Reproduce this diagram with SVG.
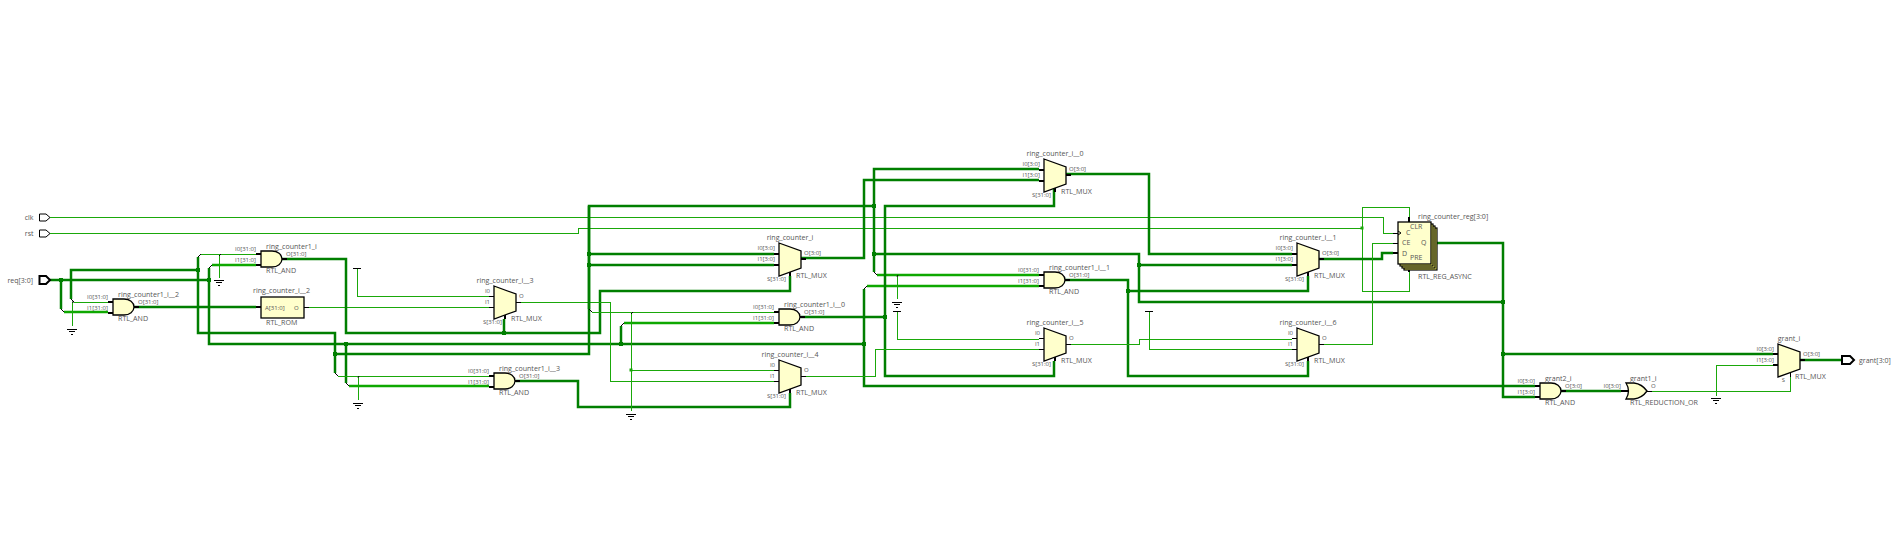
<svg xmlns="http://www.w3.org/2000/svg" xmlns:xlink="http://www.w3.org/1999/xlink" width="1896" height="557" viewBox="0 0 1896 557">
<style>
text{font-family:"Open Sans","Noto Sans",sans-serif;fill:#555;font-size:7.1px}
.s{font-size:6px}
.l{font-size:7px}
.e{text-anchor:end}
.m{text-anchor:middle}
.b{fill:none;stroke:#007f00;stroke-width:2.5}
.h{fill:none;stroke:#0ea800;stroke-width:2.5}
.t{fill:none;stroke:#1aa80a;stroke-width:1;shape-rendering:crispEdges}
.r{fill:none;stroke:#000;stroke-width:1}
.g{fill:#ffc;stroke:#000;stroke-width:1.3}
.y{fill:#ff6;stroke:#000;stroke-width:1.2}
.p{stroke:#000;stroke-width:1;fill:none;shape-rendering:crispEdges}
.q{stroke:#000;stroke-width:2;fill:none}
.j{fill:#007f00}
.k{fill:#1aa80a}
</style>
<defs>
<path id="and" class="g" d="M0 0H11A10 8 0 0 1 11 16H0Z"/>
<path id="or" class="g" d="M0 0H8Q16 1 21 8Q16 15 8 16H0Q5 8 0 0Z"/>
<path id="mux" class="g" d="M0 0L22 8V25L0 33Z"/>
<g id="gnd"><path class="p" d="M-5 0H5M-3 2.500H3M-1 5H1"/></g>
<path id="vcc" class="p" d="M-4 0H4"/>
<g id="andpins"><path class="q" d="M-5 3H0M-5 14H0M21 8H26"/></g>
<g id="muxbus"><path class="q" d="M-5 11H0M-5 22H0M22 16H27M11 29V33"/></g>
<g id="muxbit"><path class="p" d="M-5 10H0M-5 21H0M22 16H27"/><path class="q" d="M11 29V33"/></g>
<rect id="jn" x="-2" y="-2" width="4" height="4" class="j"/>
</defs>

<g id="connectors">
<path class="t" d="M50 217H1383V233H1393"/>
<path class="t" d="M50 233H578V228H1362"/>
<path class="t" d="M1362 228V207H1409V217M1362 228V291H1409V270"/>
<path class="b" d="M50 280H209"/>
<path class="b" d="M61 280V309"/>
<path class="h" d="M64 312H108"/>
<path class="b" d="M71 299V270H198"/>
<path class="t" d="M74 302H108M72 302V326"/>
<path class="b" d="M198 257V333H335V373"/>
<path class="t" d="M201 254H256M219 256V278"/>
<path class="b" d="M209 268V344H864"/>
<path class="h" d="M212 265H256"/>
<path class="b" d="M134 307H256"/>
<path class="t" d="M304 307H489"/>
<path class="b" d="M282 259H346V333H600V291H790V276"/>
<path class="b" d="M504 333V319"/>
<path class="t" d="M357 268V296H489"/>
<path class="t" d="M516 302H610V381H774"/>
<path class="b" d="M335 354H589V206H874"/>
<path class="b" d="M589 254H774M589 265H774"/>
<path class="b" d="M589 206V309"/>
<path class="t" d="M592 312H774"/>
<path class="b" d="M346 344V383"/>
<path class="h" d="M349 386H489"/>
<path class="t" d="M338 376H489M358 378V400"/>
<path class="b" d="M516 381H578V407H790V393"/>
<path class="b" d="M621 344V326"/>
<path class="h" d="M624 323H774"/>
<path class="t" d="M631 314V411M631 370H774"/>
<path class="b" d="M801 317H885"/>
<path class="b" d="M801 258H864V180H1039"/>
<path class="b" d="M1039 169H874V272"/>
<path class="h" d="M877 275H1039"/>
<path class="b" d="M864 289V386H1535"/>
<path class="h" d="M867 286H1039"/>
<path class="b" d="M874 254H1139V302H1503"/>
<path class="b" d="M1139 265H1292"/>
<path class="b" d="M1054 187V206H885V376H1054V361"/>
<path class="t" d="M801 376H875V349H1039"/>
<path class="t" d="M897 277V299M897 311V339H1039"/>
<path class="b" d="M1066 174H1149V254H1292"/>
<path class="b" d="M1065 280H1128V376H1308V361"/>
<path class="b" d="M1128 291H1308V276"/>
<path class="t" d="M1066 344H1139V339H1292"/>
<path class="t" d="M1149 311V349H1292"/>
<path class="b" d="M1319 259H1382V253H1393"/>
<path class="t" d="M1319 344H1372V243H1393"/>
<path class="b" d="M1431 243H1503V397H1535"/>
<path class="b" d="M1503 354H1773"/>
<path class="b" d="M1561 391H1621"/>
<path class="t" d="M1646 391H1790V377"/>
<path class="t" d="M1773 365H1716V396"/>
<path class="b" d="M1800 360H1842"/>
<path class="r" d="M71 299L74 302M61 309L64 312M198 257L201 254M209 268L212 265M335 373L338 376M346 383L349 386M589 309L592 312M621 326L624 323M864 289L867 286M874 272L877 275M72 302L74 302M219 256L221 254M358 378L359 376M631 314L633 312M897 277L898 275"/>
<use xlink:href="#jn" href="#jn" x="61" y="280"/>
<use xlink:href="#jn" href="#jn" x="198" y="270"/>
<use xlink:href="#jn" href="#jn" x="209" y="280"/>
<use xlink:href="#jn" href="#jn" x="335" y="354"/>
<use xlink:href="#jn" href="#jn" x="346" y="344"/>
<use xlink:href="#jn" href="#jn" x="504" y="333"/>
<use xlink:href="#jn" href="#jn" x="589" y="254"/>
<use xlink:href="#jn" href="#jn" x="589" y="265"/>
<use xlink:href="#jn" href="#jn" x="621" y="344"/>
<use xlink:href="#jn" href="#jn" x="864" y="344"/>
<use xlink:href="#jn" href="#jn" x="874" y="206"/>
<use xlink:href="#jn" href="#jn" x="874" y="254"/>
<use xlink:href="#jn" href="#jn" x="885" y="317"/>
<use xlink:href="#jn" href="#jn" x="1128" y="291"/>
<use xlink:href="#jn" href="#jn" x="1139" y="265"/>
<use xlink:href="#jn" href="#jn" x="1503" y="302"/>
<use xlink:href="#jn" href="#jn" x="1503" y="354"/>
<rect class="k" x="629.500" y="368.500" width="3" height="3"/>
<rect class="k" x="1360.500" y="226.500" width="3" height="3"/>
</g>

<g id="port_clk"><path d="M39.500 214H46L50 217.500L46 221H39.500Z" fill="#fff" stroke="#000"/><text class="l e" x="33.500" y="220">clk</text></g>
<g id="port_rst"><path d="M39.500 230H46L50 233.500L46 237H39.500Z" fill="#fff" stroke="#000"/><text class="l e" x="33.500" y="236">rst</text></g>
<g id="port_req"><path d="M39.500 276H46L50 280L46 284H39.500Z" fill="#fff" stroke="#000" stroke-width="2"/><text class="l e" x="33" y="283">req[3:0]</text></g>
<g id="port_grant"><path d="M1842 356H1850L1854 360L1850 364H1842Z" fill="#fff" stroke="#000" stroke-width="2"/><text class="l" x="1859" y="363">grant[3:0]</text></g>

<g id="gnd_1"><use xlink:href="#gnd" href="#gnd" x="72" y="329"/></g>
<g id="gnd_2"><use xlink:href="#gnd" href="#gnd" x="219" y="280"/></g>
<g id="gnd_3"><use xlink:href="#gnd" href="#gnd" x="358" y="403"/></g>
<g id="gnd_4"><use xlink:href="#gnd" href="#gnd" x="631" y="414"/></g>
<g id="gnd_5"><use xlink:href="#gnd" href="#gnd" x="897" y="302"/></g>
<g id="gnd_6"><use xlink:href="#gnd" href="#gnd" x="1716" y="398"/></g>
<g id="vcc_1"><use xlink:href="#vcc" href="#vcc" x="357" y="268"/></g>
<g id="vcc_2"><use xlink:href="#vcc" href="#vcc" x="897" y="311"/></g>
<g id="vcc_3"><use xlink:href="#vcc" href="#vcc" x="1149" y="311"/></g>

<g id="ring_counter1_i__2" transform="translate(113,299)"><use xlink:href="#andpins" href="#andpins"/><use xlink:href="#and" href="#and"/><text x="5" y="-2.500">ring_counter1_i__2</text><text class="s e" x="-5" y="0">I0[31:0]</text><text class="s e" x="-5" y="11">I1[31:0]</text><text class="s" x="25" y="5">O[31:0]</text><text x="5" y="22">RTL_AND</text></g>
<g id="ring_counter1_i" transform="translate(261,251)"><use xlink:href="#andpins" href="#andpins"/><use xlink:href="#and" href="#and"/><text x="5" y="-2.500">ring_counter1_i</text><text class="s e" x="-5" y="0">I0[31:0]</text><text class="s e" x="-5" y="11">I1[31:0]</text><text class="s" x="25" y="5">O[31:0]</text><text x="5" y="22">RTL_AND</text></g>
<g id="ring_counter1_i__3" transform="translate(494,373)"><use xlink:href="#andpins" href="#andpins"/><use xlink:href="#and" href="#and"/><text x="5" y="-2.500">ring_counter1_i__3</text><text class="s e" x="-5" y="0">I0[31:0]</text><text class="s e" x="-5" y="11">I1[31:0]</text><text class="s" x="25" y="5">O[31:0]</text><text x="5" y="22">RTL_AND</text></g>
<g id="ring_counter1_i__0" transform="translate(779,309)"><use xlink:href="#andpins" href="#andpins"/><use xlink:href="#and" href="#and"/><text x="5" y="-2.500">ring_counter1_i__0</text><text class="s e" x="-5" y="0">I0[31:0]</text><text class="s e" x="-5" y="11">I1[31:0]</text><text class="s" x="25" y="5">O[31:0]</text><text x="5" y="22">RTL_AND</text></g>
<g id="ring_counter1_i__1" transform="translate(1044,272)"><use xlink:href="#andpins" href="#andpins"/><use xlink:href="#and" href="#and"/><text x="5" y="-2.500">ring_counter1_i__1</text><text class="s e" x="-5" y="0">I0[31:0]</text><text class="s e" x="-5" y="11">I1[31:0]</text><text class="s" x="25" y="5">O[31:0]</text><text x="5" y="22">RTL_AND</text></g>
<g id="grant2_i" transform="translate(1540,383)"><use xlink:href="#andpins" href="#andpins"/><use xlink:href="#and" href="#and"/><text x="5" y="-2.500">grant2_i</text><text class="s e" x="-5" y="0">I0[3:0]</text><text class="s e" x="-5" y="11">I1[3:0]</text><text class="s" x="25" y="5">O[3:0]</text><text x="5" y="22">RTL_AND</text></g>
<g id="grant1_i" transform="translate(1626,383)"><path class="q" d="M-5 8H3"/><path class="p" d="M21 8H26"/><use xlink:href="#or" href="#or"/><text x="4" y="-2.500">grant1_i</text><text class="s e" x="-5" y="5">I0[3:0]</text><text class="s" x="25" y="5">O</text><text x="4" y="22">RTL_REDUCTION_OR</text></g>
<g id="ring_counter_i__2" transform="translate(261,297)"><path class="q" d="M-5 10H0"/><path class="p" d="M43 10H48"/><rect class="g" width="43" height="21"/><text x="-8" y="-4.500">ring_counter_i__2</text><text class="s" x="4" y="12.500">A[31:0]</text><text class="s" x="33" y="12.500">O</text><text x="5" y="28">RTL_ROM</text></g>

<g id="ring_counter_i__3" transform="translate(494,286)"><use xlink:href="#muxbit" href="#muxbit"/><use xlink:href="#mux" href="#mux"/><text class="m" x="11" y="-3">ring_counter_i__3</text><text class="s e" x="-4" y="7">I0</text><text class="s e" x="-4" y="18">I1</text><text class="s" x="25" y="12">O</text><text class="s e" x="8" y="38">S[31:0]</text><text x="17" y="35">RTL_MUX</text></g>
<g id="ring_counter_i__4" transform="translate(779,360)"><use xlink:href="#muxbit" href="#muxbit"/><use xlink:href="#mux" href="#mux"/><text class="m" x="11" y="-3">ring_counter_i__4</text><text class="s e" x="-4" y="7">I0</text><text class="s e" x="-4" y="18">I1</text><text class="s" x="25" y="12">O</text><text class="s e" x="7" y="38">S[31:0]</text><text x="17" y="35">RTL_MUX</text></g>
<g id="ring_counter_i__5" transform="translate(1044,328)"><use xlink:href="#muxbit" href="#muxbit"/><use xlink:href="#mux" href="#mux"/><text class="m" x="11" y="-3">ring_counter_i__5</text><text class="s e" x="-4" y="7">I0</text><text class="s e" x="-4" y="18">I1</text><text class="s" x="25" y="12">O</text><text class="s e" x="7" y="38">S[31:0]</text><text x="17" y="35">RTL_MUX</text></g>
<g id="ring_counter_i__6" transform="translate(1297,328)"><use xlink:href="#muxbit" href="#muxbit"/><use xlink:href="#mux" href="#mux"/><text class="m" x="11" y="-3">ring_counter_i__6</text><text class="s e" x="-4" y="7">I0</text><text class="s e" x="-4" y="18">I1</text><text class="s" x="25" y="12">O</text><text class="s e" x="7" y="38">S[31:0]</text><text x="17" y="35">RTL_MUX</text></g>
<g id="ring_counter_i" transform="translate(779,243)"><use xlink:href="#muxbus" href="#muxbus"/><use xlink:href="#mux" href="#mux"/><text class="m" x="11" y="-3">ring_counter_i</text><text class="s e" x="-4" y="7">I0[3:0]</text><text class="s e" x="-4" y="18">I1[3:0]</text><text class="s" x="25" y="12">O[3:0]</text><text class="s e" x="7" y="38">S[31:0]</text><text x="17" y="35">RTL_MUX</text></g>
<g id="ring_counter_i__0" transform="translate(1044,159)"><use xlink:href="#muxbus" href="#muxbus"/><use xlink:href="#mux" href="#mux"/><text class="m" x="11" y="-3">ring_counter_i__0</text><text class="s e" x="-4" y="7">I0[3:0]</text><text class="s e" x="-4" y="18">I1[3:0]</text><text class="s" x="25" y="12">O[3:0]</text><text class="s e" x="7" y="38">S[31:0]</text><text x="17" y="35">RTL_MUX</text></g>
<g id="ring_counter_i__1" transform="translate(1297,243)"><use xlink:href="#muxbus" href="#muxbus"/><use xlink:href="#mux" href="#mux"/><text class="m" x="11" y="-3">ring_counter_i__1</text><text class="s e" x="-4" y="7">I0[3:0]</text><text class="s e" x="-4" y="18">I1[3:0]</text><text class="s" x="25" y="12">O[3:0]</text><text class="s e" x="7" y="38">S[31:0]</text><text x="17" y="35">RTL_MUX</text></g>
<g id="grant_i" transform="translate(1778,344)"><path class="q" d="M-5 10H0M-5 21H0M22 16H27"/><path class="p" d="M12 29V33"/><use xlink:href="#mux" href="#mux"/><text class="m" x="11" y="-3">grant_i</text><text class="s e" x="-4" y="7">I0[3:0]</text><text class="s e" x="-4" y="18">I1[3:0]</text><text class="s" x="25" y="12">O[3:0]</text><text class="s e" x="7" y="38">S</text><text x="17" y="35">RTL_MUX</text></g>

<g id="ring_counter_reg" transform="translate(1398,222)">
<path class="q" d="M11 -5V0"/><path class="p" d="M-5 11H0M-5 21H0"/><path class="q" d="M-5 31H0M33 21H38"/><path class="q" d="M11 42V50"/>
<rect x="6" y="6" width="33" height="42" class="y"/>
<rect x="4" y="4" width="33" height="42" class="y"/>
<rect x="2" y="2" width="33" height="42" class="y"/>
<rect width="33" height="42" class="g"/>
<path class="r" d="M0 9L3 11L0 13"/>
<text class="l" x="12" y="7">CLR</text><text class="l" x="8" y="13">C</text><text class="l" x="4" y="23">CE</text><text class="l" x="4" y="34">D</text><text class="l" x="23" y="23">Q</text><text class="l" x="12" y="38">PRE</text>
<text x="20" y="-3.500">ring_counter_reg[3:0]</text><text x="20" y="56.500">RTL_REG_ASYNC</text>
</g>
</svg>
